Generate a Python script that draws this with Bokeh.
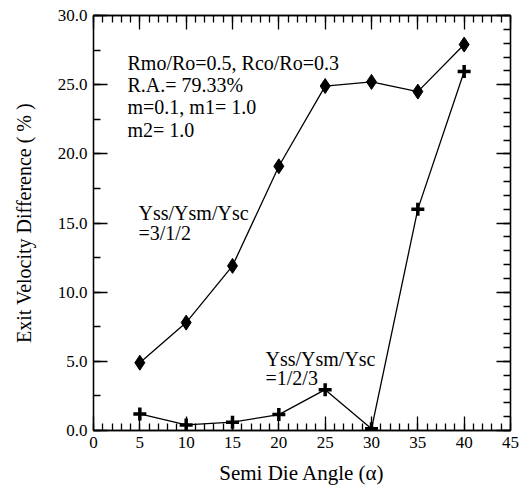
from bokeh.plotting import figure
from bokeh.models import (LinearAxis, SingleIntervalTicker, NumeralTickFormatter,
                          Label, Range1d, ColumnDataSource, CustomLabelingPolicy)
from bokeh.embed import file_html
from bokeh.resources import INLINE

# Semi die angle (degrees)
angle = [5, 10, 15, 20, 25, 30, 35, 40]
# Exit velocity difference (%) for each yield-strength ratio
diff_312 = [4.9, 7.8, 11.9, 19.1, 24.9, 25.2, 24.5, 27.9]
diff_123 = [1.2, 0.4, 0.6, 1.15, 2.95, 0.12, 16.0, 25.95]

FONT = "Liberation Serif"

p = figure(frame_width=417, frame_height=415,
           min_border_left=93, min_border_right=14,
           min_border_top=15, min_border_bottom=62,
           x_range=Range1d(0, 45), y_range=Range1d(0, 30),
           output_backend="svg", toolbar_location=None)
p.xgrid.visible = False
p.ygrid.visible = False
p.outline_line_color = "black"
p.outline_line_width = 1.3
p.background_fill_color = "white"
p.border_fill_color = "white"

def style_axis(ax, minor, labels=True):
    ax.axis_line_color = "black"
    ax.axis_line_width = 1.3
    ax.major_tick_in = 14
    ax.major_tick_out = 0
    ax.minor_tick_in = 7
    ax.minor_tick_out = 0
    ax.major_tick_line_color = "black"
    ax.minor_tick_line_color = "black"
    ax.major_tick_line_width = 1.3
    ax.minor_tick_line_width = 1.3
    ax.ticker = SingleIntervalTicker(interval=5, num_minor_ticks=minor)
    if labels:
        ax.major_label_text_font = FONT
        ax.major_label_text_font_size = "17px"
        ax.major_label_text_color = "black"
    else:
        # tick marks only on the mirrored axes
        ax.major_label_policy = CustomLabelingPolicy(code="return new Set()")
        ax.major_label_standoff = 0

xa = p.xaxis[0]
style_axis(xa, 5)
xa.major_label_standoff = 6
xa.axis_label = "Semi Die Angle (\u03b1)"
xa.axis_label_text_font = FONT
xa.axis_label_text_font_size = "21px"
xa.axis_label_text_font_style = "normal"
xa.axis_label_text_color = "black"
xa.axis_label_standoff = 10

ya = p.yaxis[0]
style_axis(ya, 2)
ya.formatter = NumeralTickFormatter(format="0.0")
ya.major_label_standoff = 6
ya.axis_label = "Exit Velocity Difference ( % )"
ya.axis_label_text_font = FONT
ya.axis_label_text_font_size = "20px"
ya.axis_label_text_font_style = "normal"
ya.axis_label_text_color = "black"
ya.axis_label_standoff = 20

top = LinearAxis()
style_axis(top, 5, labels=False)
p.add_layout(top, "above")

right = LinearAxis()
style_axis(right, 5, labels=False)
p.add_layout(right, "right")

src_a = ColumnDataSource(dict(x=angle, y=diff_312))
src_b = ColumnDataSource(dict(x=angle, y=diff_123))

p.line("x", "y", source=src_a, line_color="black", line_width=1.3)
p.scatter("x", "y", source=src_a, marker="diamond", size=15,
          fill_color="black", line_color="black")

p.line("x", "y", source=src_b, line_color="black", line_width=1.3)
p.scatter("x", "y", source=src_b, marker="cross", size=13,
          line_color="black", line_width=3.5)

def note(x, y, text, size="20px"):
    p.add_layout(Label(x=x, y=y, text=text, text_font=FONT,
                       text_font_size=size, text_color="black",
                       text_baseline="alphabetic", text_align="left"))

note(3.67, 26.6, "Rmo/Ro=0.5, Rco/Ro=0.3")
note(3.67, 25.0, "R.A.= 79.33%")
note(3.67, 23.35, "m=0.1, m1= 1.0")
note(3.67, 21.75, "m2= 1.0")

note(4.86, 15.75, "Yss/Ysm/Ysc")
note(4.86, 14.3, "=3/1/2")

note(18.56, 5.2, "Yss/Ysm/Ysc")
note(18.56, 3.76, "=1/2/3")

open("out.html", "w").write(file_html(p, INLINE))
